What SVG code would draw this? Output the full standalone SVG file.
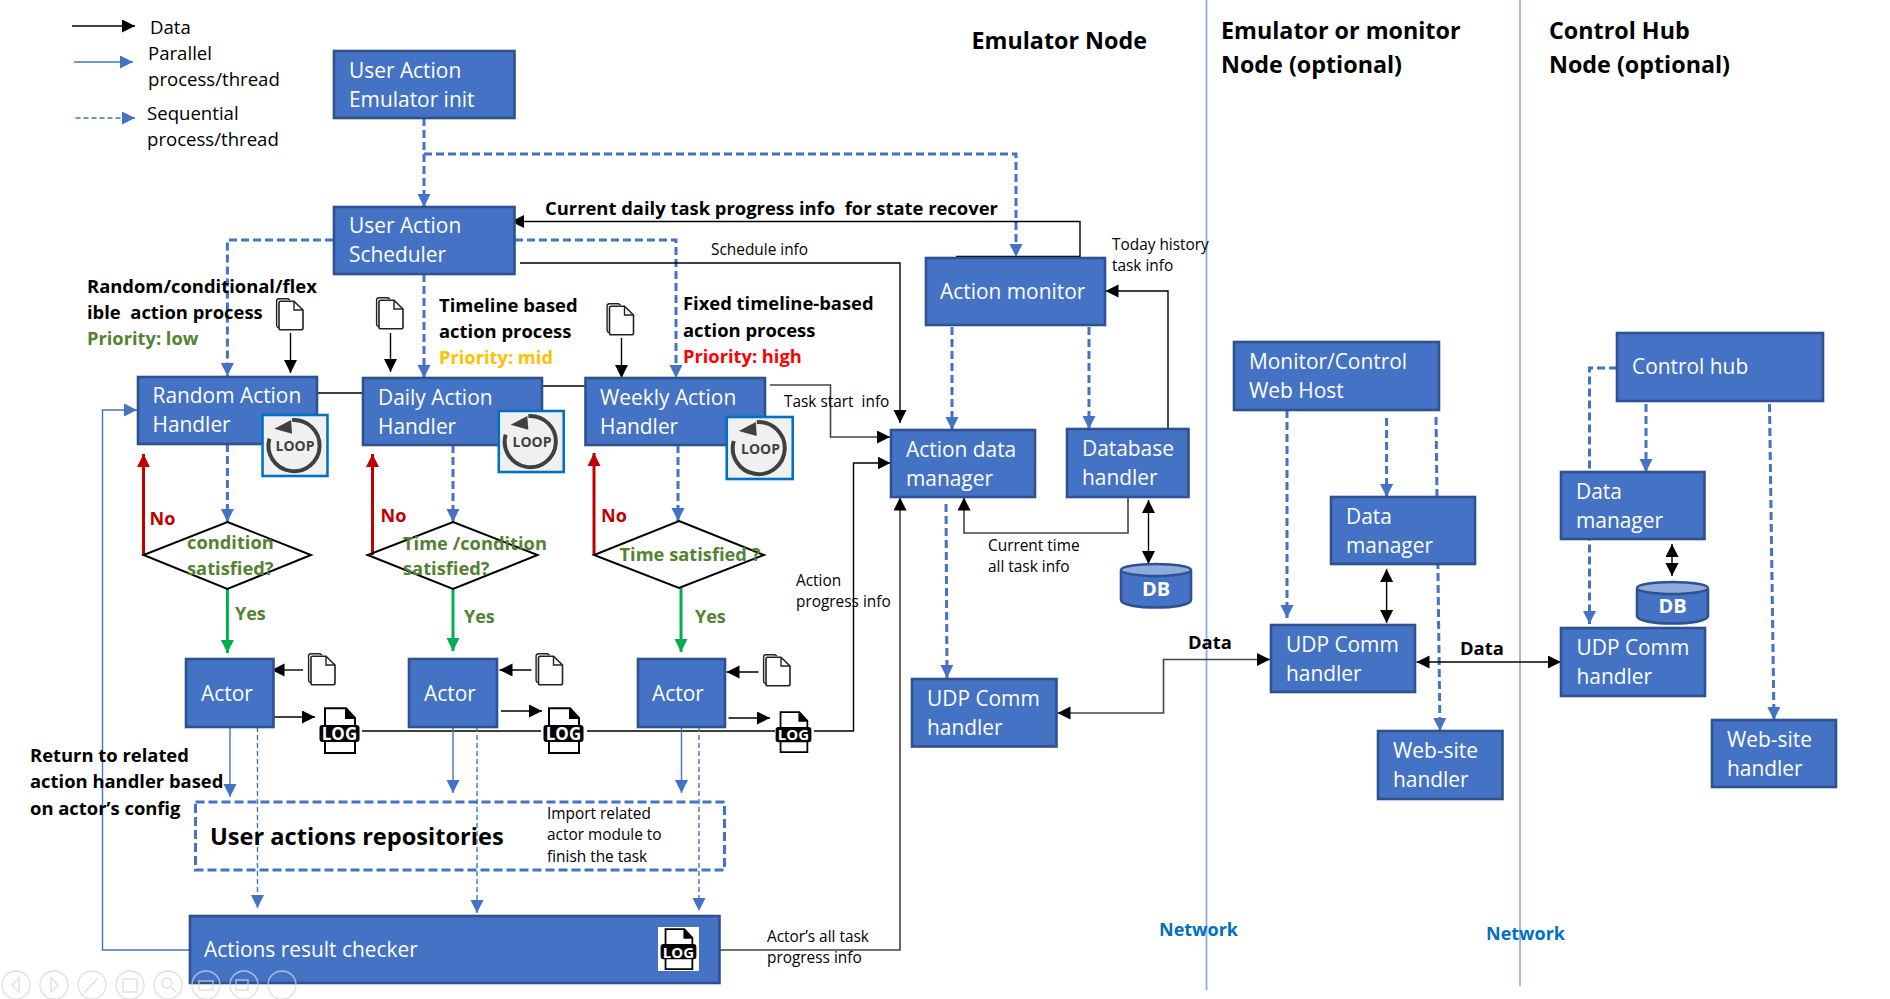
<svg xmlns="http://www.w3.org/2000/svg" width="1890" height="999" viewBox="0 0 1890 999">
<style>
text{font-family:"Open Sans","Noto Sans","Liberation Sans",sans-serif;fill:#000;white-space:pre}
.box{fill:#4472c4;stroke:#2f528f;stroke-width:2.6}
.nt{fill:#fff;font-size:20.9px}
.b{font-weight:700;font-size:18.4px}
.s{font-size:15.4px}
.leg{font-size:18.6px}
.title{font-weight:700;font-size:23.3px}
.grn{fill:#548235;font-weight:700;font-size:18.3px}
.red{fill:#c00000;font-weight:700;font-size:18px}
.yes{fill:#548235;font-weight:700;font-size:18px}
.net{fill:#0070c0;font-weight:700;font-size:18px}
.bl{fill:none;stroke:#000;stroke-width:1.4}
.gr{fill:none;stroke:#444;stroke-width:1.6}
.pa{fill:none;stroke:#4472c4;stroke-width:1.4}
.sq{fill:none;stroke:#4472c4;stroke-width:3;stroke-dasharray:8 4}
.st{fill:none;stroke:#4472c4;stroke-width:1.4;stroke-dasharray:5 3}
.dia{fill:none;stroke:#000;stroke-width:2}
.loopb{fill:#f0f0f0;stroke:#0070c0;stroke-width:2.6}
.lt{font-weight:700;font-size:14px;fill:#404040;text-anchor:middle}
.lg{font-weight:700;font-size:17px;fill:#fff;text-anchor:middle}
.ui{fill:none;stroke:#d8d8d8;stroke-width:1.4}
</style>
<defs>
<marker id="ab" markerUnits="userSpaceOnUse" markerWidth="14" markerHeight="14" refX="13" refY="6.5" orient="auto-start-reverse"><path d="M0 0L13 6.5L0 13Z" fill="#000"/></marker>
<marker id="au" markerUnits="userSpaceOnUse" markerWidth="14" markerHeight="14" refX="13" refY="6.5" orient="auto-start-reverse"><path d="M0 0L13 6.5L0 13Z" fill="#4472c4"/></marker>
<marker id="ag" markerUnits="userSpaceOnUse" markerWidth="14" markerHeight="14" refX="13" refY="6.5" orient="auto"><path d="M0 0L13 6.5L0 13Z" fill="#00b050"/></marker>
<marker id="ar" markerUnits="userSpaceOnUse" markerWidth="14" markerHeight="14" refX="13" refY="6.5" orient="auto"><path d="M0 0L13 6.5L0 13Z" fill="#c00000"/></marker>
<symbol id="doc" viewBox="0 0 28 33" overflow="visible">
<path d="M3 29.5Q0.6 29.5 0.6 27V3Q0.6 0.8 3 0.8H12L14 2" fill="none" stroke="#222" stroke-width="1.4"/>
<path d="M4.5 31.8Q3 31.8 3 30V5Q3 3.2 4.5 3.2H18L27 12V30Q27 31.8 25 31.8Z" fill="#fff" stroke="#222" stroke-width="1.6"/>
<path d="M18 3.2V12H27" fill="none" stroke="#222" stroke-width="1.4"/>
</symbol>
<symbol id="log" viewBox="0 0 41 47" overflow="visible">
<path d="M6 1.2H27L36 11V46H6Z" fill="#fff" stroke="#000" stroke-width="2"/>
<path d="M26 1V12H36Z" fill="#000"/>
<rect x="0.5" y="18" width="40" height="17" rx="3" fill="#000"/>
</symbol>
<symbol id="loop" viewBox="-33 -31 66 62" overflow="visible">
<rect class="loopb" x="-33" y="-31" width="66" height="62"/>
<path d="M-26 -7A26 26 0 1 0 -3 -25.8" fill="none" stroke="#404040" stroke-width="4"/>
<path d="M-21 -17L-4 -26L-3 -12Z" fill="#404040"/>
</symbol>
</defs>

<g id="legend">
<path class="bl" d="M72 26H135" marker-end="url(#ab)"/>
<path class="pa" d="M74 62H133" marker-end="url(#au)"/>
<path class="st" d="M75.5 118H135" marker-end="url(#au)"/>
<text class="leg" x="150" y="34">Data</text>
<text class="leg" x="148" y="60">Parallel</text>
<text class="leg" x="148" y="86">process/thread</text>
<text class="leg" x="147" y="120">Sequential</text>
<text class="leg" x="147" y="146">process/thread</text>
</g>

<g id="network-lines">
<path d="M1206.5 0V990" fill="none" stroke="#8faadc" stroke-width="1.8"/>
<path d="M1520 0V986" fill="none" stroke="#4472c4" stroke-width="1"/>
</g>

<g id="connectors">
<path class="sq" d="M424 118V207" marker-end="url(#au)"/>
<path class="sq" d="M424 154H1016V257" marker-end="url(#au)"/>
<path class="sq" d="M333 240H227.4V376" marker-end="url(#au)"/>
<path class="sq" d="M515 240H676V378" marker-end="url(#au)"/>
<path class="sq" d="M424 274V378" marker-end="url(#au)"/>
<path class="sq" d="M227.4 444V522" marker-end="url(#au)"/>
<path class="sq" d="M453 445V522" marker-end="url(#au)"/>
<path class="sq" d="M678 445V521" marker-end="url(#au)"/>
<path class="bl" d="M956 256.5H1080V221.5H511" marker-end="url(#ab)"/>
<path class="bl" d="M520 263H900V423" marker-end="url(#ab)"/>
<path class="bl" d="M290.5 333V373" marker-end="url(#ab)"/>
<path class="bl" d="M390.5 333V372" marker-end="url(#ab)"/>
<path class="bl" d="M621.5 338V378" marker-end="url(#ab)"/>
<path class="bl" d="M317 393H362"/>
<path class="bl" d="M542 386H585"/>
<path class="gr" d="M770 385H830.5V437H890" marker-end="url(#ab)"/>
<path class="sq" d="M952 327V430" marker-end="url(#au)"/>
<path class="sq" d="M1089 327V429" marker-end="url(#au)"/>
<path class="bl" d="M1168 429V291H1105.5" marker-end="url(#ab)"/>
<path class="gr" d="M1128 497V533H964V497.5" marker-end="url(#ab)"/>
<path class="bl" d="M1148.5 500V564" marker-start="url(#ab)" marker-end="url(#ab)"/>
<path class="bl" d="M362 731H541"/>
<path class="bl" d="M587 731H775"/>
<path class="bl" d="M814 731H853.5V463H890.5" marker-end="url(#ab)"/>
<path class="gr" d="M720 950H900V497.5" marker-end="url(#ab)"/>
<path class="sq" d="M946 504L947 678" marker-end="url(#au)"/>
<path class="gr" d="M1057.5 713H1163.5V659.5H1270" marker-start="url(#ab)" marker-end="url(#ab)"/>
<path class="sq" d="M1287 410V618" marker-end="url(#au)"/>
<path class="sq" d="M1386.6 418V497" marker-end="url(#au)"/>
<path class="sq" d="M1436 417L1440 731" marker-end="url(#au)"/>
<path class="sq" d="M1617 368H1589.5V624" marker-end="url(#au)"/>
<path class="sq" d="M1646 404V472" marker-end="url(#au)"/>
<path class="sq" d="M1769.5 404L1774 720" marker-end="url(#au)"/>
<path class="bl" d="M1672 544V576" marker-start="url(#ab)" marker-end="url(#ab)"/>
<path class="bl" d="M1386.6 569V623" marker-start="url(#ab)" marker-end="url(#ab)"/>
<path class="bl" d="M1416.5 662H1561" marker-start="url(#ab)" marker-end="url(#ab)"/>
<path d="M143.5 555V454" fill="none" stroke="#c00000" stroke-width="3" marker-end="url(#ar)"/>
<path d="M372.5 555V454" fill="none" stroke="#c00000" stroke-width="3" marker-end="url(#ar)"/>
<path d="M594 555V453" fill="none" stroke="#c00000" stroke-width="3" marker-end="url(#ar)"/>
<path d="M227.4 589V653" fill="none" stroke="#00b050" stroke-width="3" marker-end="url(#ag)"/>
<path d="M453 589V651" fill="none" stroke="#00b050" stroke-width="3" marker-end="url(#ag)"/>
<path d="M681 588V652" fill="none" stroke="#00b050" stroke-width="3" marker-end="url(#ag)"/>
<path class="bl" d="M303 670H271.5" marker-end="url(#ab)"/>
<path class="bl" d="M531.5 670H499.5" marker-end="url(#ab)"/>
<path class="bl" d="M758.5 672H726.5" marker-end="url(#ab)"/>
<path class="bl" d="M274 717H315" marker-end="url(#ab)"/>
<path class="bl" d="M501 711H542" marker-end="url(#ab)"/>
<path class="bl" d="M728.5 718H770" marker-end="url(#ab)"/>
<path class="pa" d="M230 727V797" marker-end="url(#au)"/>
<path class="pa" d="M453 727V793" marker-end="url(#au)"/>
<path class="pa" d="M681.5 727V793" marker-end="url(#au)"/>
<path class="st" d="M257.5 727V908" marker-end="url(#au)"/>
<path class="st" d="M477 727V913" marker-end="url(#au)"/>
<path class="st" d="M699 727V911" marker-end="url(#au)"/>
<path class="pa" d="M189 950H102.5V410H137" marker-end="url(#au)"/>
</g>

<g id="node-init"><rect class="box" x="334" y="51" width="180.5" height="67"/><text class="nt" x="349" y="78">User Action</text><text class="nt" x="349" y="107">Emulator init</text></g>
<g id="node-scheduler"><rect class="box" x="334" y="207" width="180.5" height="67"/><text class="nt" x="349" y="233">User Action</text><text class="nt" x="349" y="262">Scheduler</text></g>
<g id="node-random"><rect class="box" x="138" y="377" width="179" height="67"/><text class="nt" x="152.5" y="403">Random Action</text><text class="nt" x="152.5" y="432">Handler</text>
<use href="#loop" x="262" y="415" width="66" height="61"/><text class="lt" x="295" y="451">LOOP</text></g>
<g id="node-daily"><rect class="box" x="363" y="378" width="179" height="67"/><text class="nt" x="378" y="405">Daily Action</text><text class="nt" x="378" y="434">Handler</text>
<use href="#loop" x="498.5" y="411" width="65.5" height="61"/><text class="lt" x="532" y="447">LOOP</text></g>
<g id="node-weekly"><rect class="box" x="585.5" y="378" width="179.5" height="67"/><text class="nt" x="600" y="405">Weekly Action</text><text class="nt" x="600" y="434">Handler</text>
<use href="#loop" x="726.5" y="417" width="66.5" height="62"/><text class="lt" x="760.5" y="454">LOOP</text></g>

<g id="cond-1"><path class="dia" d="M227.4 522L311 555L227.4 589L143.5 555Z"/><text class="grn" x="187" y="549">condition</text><text class="grn" x="187" y="575">satisfied?</text></g>
<g id="cond-2"><path class="dia" d="M453 522L537.6 555L453 589L367.6 555Z"/><text class="grn" x="403" y="550">Time /condition</text><text class="grn" x="403" y="575">satisfied?</text></g>
<g id="cond-3"><path class="dia" d="M679 521L764 555L679 588L594 555Z"/><text class="grn" x="619.5" y="561">Time satisfied ?</text></g>

<g id="actor-1"><rect class="box" x="186" y="659" width="87.5" height="68"/><text class="nt" x="201" y="701">Actor</text>
<use href="#doc" x="308" y="653" width="28" height="33"/><use href="#log" x="319" y="707" width="41" height="47"/><text class="lg" x="339.5" y="740">LOG</text></g>
<g id="actor-2"><rect class="box" x="409" y="659" width="88" height="68"/><text class="nt" x="424" y="701">Actor</text>
<use href="#doc" x="535.5" y="653" width="28" height="33"/><use href="#log" x="543" y="707" width="41" height="47"/><text class="lg" x="563.5" y="740">LOG</text></g>
<g id="actor-3"><rect class="box" x="638" y="659" width="87" height="68"/><text class="nt" x="652" y="701">Actor</text>
<use href="#doc" x="763" y="654" width="28" height="33"/><use href="#log" x="775" y="711" width="37" height="42"/><text class="lg" x="793.5" y="740" style="font-size:15px">LOG</text></g>

<g id="docs"><use href="#doc" x="276" y="298" width="28" height="33"/><use href="#doc" x="376" y="297" width="28" height="33"/><use href="#doc" x="606.5" y="303" width="28" height="33"/></g>

<g id="node-repo"><rect x="195.5" y="802" width="529" height="68" fill="none" stroke="#4472c4" stroke-width="3" stroke-dasharray="9 4"/><text x="210" y="845" style="font-weight:700;font-size:23.6px">User actions repositories</text><text class="s" x="547" y="819">Import related</text><text class="s" x="547" y="840">actor module to</text><text class="s" x="547" y="862">finish the task</text></g>
<g id="node-checker"><rect class="box" x="190" y="916" width="529.5" height="67"/><text class="nt" x="204" y="957">Actions result checker</text>
<rect x="658" y="927" width="41" height="44" fill="#fff"/><use href="#log" x="659.5" y="928" width="38" height="42"/><text class="lg" x="678.5" y="958" style="font-size:15px">LOG</text></g>

<g id="node-monitor"><rect class="box" x="926" y="258" width="179" height="67"/><text class="nt" x="940" y="299">Action monitor</text></g>
<g id="node-adm"><rect class="box" x="891" y="430" width="144" height="67"/><text class="nt" x="906" y="457">Action data</text><text class="nt" x="906" y="486">manager</text></g>
<g id="node-dbh"><rect class="box" x="1067" y="429" width="121.5" height="68"/><text class="nt" x="1082" y="456">Database</text><text class="nt" x="1082" y="485">handler</text></g>
<g id="node-db1"><path class="box" d="M1121 571V600C1121 610 1191 610 1191 600V571Z"/><ellipse cx="1156" cy="570" rx="35" ry="6" fill="#8faadc" stroke="#2f528f" stroke-width="2.4"/><text x="1156" y="596" text-anchor="middle" style="fill:#fff;font-weight:700;font-size:20px">DB</text></g>
<g id="node-udp1"><rect class="box" x="912" y="679" width="144.5" height="67.5"/><text class="nt" x="927" y="706">UDP Comm</text><text class="nt" x="927" y="735">handler</text></g>

<g id="node-host"><rect class="box" x="1234" y="342" width="205" height="68"/><text class="nt" x="1249" y="369">Monitor/Control</text><text class="nt" x="1249" y="398">Web Host</text></g>
<g id="node-dm2"><rect class="box" x="1331" y="497" width="144" height="67"/><text class="nt" x="1346" y="524">Data</text><text class="nt" x="1346" y="553">manager</text></g>
<g id="node-udp2"><rect class="box" x="1271" y="625" width="144" height="67"/><text class="nt" x="1286" y="652">UDP Comm</text><text class="nt" x="1286" y="681">handler</text></g>
<g id="node-web2"><rect class="box" x="1378" y="731" width="124.5" height="68"/><text class="nt" x="1393" y="758">Web-site</text><text class="nt" x="1393" y="787">handler</text></g>

<g id="node-hub"><rect class="box" x="1617" y="333" width="206" height="68"/><text class="nt" x="1632" y="374">Control hub</text></g>
<g id="node-dm3"><rect class="box" x="1561" y="472" width="143.5" height="67"/><text class="nt" x="1576" y="499">Data</text><text class="nt" x="1576" y="528">manager</text></g>
<g id="node-db3"><path class="box" d="M1637 590V616C1637 626 1708 626 1708 616V590Z"/><ellipse cx="1672.5" cy="588" rx="35.5" ry="6" fill="#8faadc" stroke="#2f528f" stroke-width="2.4"/><text x="1672.5" y="613" text-anchor="middle" style="fill:#fff;font-weight:700;font-size:20px">DB</text></g>
<g id="node-udp3"><rect class="box" x="1561" y="628" width="144" height="68"/><text class="nt" x="1576.5" y="655">UDP Comm</text><text class="nt" x="1576.5" y="684">handler</text></g>
<g id="node-web3"><rect class="box" x="1712" y="720" width="124" height="67"/><text class="nt" x="1727" y="747">Web-site</text><text class="nt" x="1727" y="776">handler</text></g>

<g id="labels">
<text class="title" x="971.5" y="49">Emulator Node</text>
<text class="title" x="1221" y="39">Emulator or monitor</text>
<text class="title" x="1221" y="73">Node (optional)</text>
<text class="title" x="1549" y="39">Control Hub</text>
<text class="title" x="1549" y="73">Node (optional)</text>
<text class="b" x="545" y="215">Current daily task progress info  for state recover</text>
<text class="s" x="711" y="255">Schedule info</text>
<text class="s" x="1112" y="250">Today history</text>
<text class="s" x="1112" y="271">task info</text>
<text class="s" x="784" y="407">Task start  info</text>
<text class="s" x="988" y="551">Current time</text>
<text class="s" x="988" y="572">all task info</text>
<text class="s" x="796" y="586">Action</text>
<text class="s" x="796" y="607">progress info</text>
<text class="s" x="767" y="942">Actor’s all task</text>
<text class="s" x="767" y="963">progress info</text>
<text class="b" x="87" y="293">Random/conditional/flex</text>
<text class="b" x="87" y="319">ible  action process</text>
<text class="grn" x="87" y="345">Priority: low</text>
<text class="b" x="439" y="312">Timeline based</text>
<text class="b" x="439" y="338">action process</text>
<text x="439" y="364" style="fill:#ffc000;font-weight:700;font-size:18.3px">Priority: mid</text>
<text class="b" x="683" y="310">Fixed timeline-based</text>
<text class="b" x="683" y="337">action process</text>
<text x="683" y="363" style="fill:#ff0000;font-weight:700;font-size:18.3px">Priority: high</text>
<text class="red" x="149.5" y="525">No</text>
<text class="red" x="380.5" y="522">No</text>
<text class="red" x="601" y="522">No</text>
<text class="yes" x="235" y="620">Yes</text>
<text class="yes" x="464" y="623">Yes</text>
<text class="yes" x="695" y="623">Yes</text>
<text class="b" x="30" y="762">Return to related</text>
<text class="b" x="30" y="788">action handler based</text>
<text class="b" x="30" y="815">on actor’s config</text>
<text class="b" x="1188" y="649">Data</text>
<text class="b" x="1460" y="655">Data</text>
<text class="net" x="1159" y="936">Network</text>
<text class="net" x="1486" y="940">Network</text>
</g>

<g id="player-controls" opacity="0.75">
<circle class="ui" cx="16" cy="985" r="14"/><path class="ui" d="M19 978L12 985L19 992Z"/>
<circle class="ui" cx="54" cy="985" r="14"/><path class="ui" d="M51 978L58 985L51 992Z"/>
<circle class="ui" cx="92" cy="985" r="14"/><path class="ui" d="M84 993L98 978"/>
<circle class="ui" cx="130" cy="985" r="14"/><rect class="ui" x="123" y="979" width="14" height="13"/>
<circle class="ui" cx="168" cy="985" r="14"/><circle class="ui" cx="167" cy="983" r="5"/><path class="ui" d="M171 987L176 992"/>
<circle class="ui" cx="206" cy="985" r="14"/><rect class="ui" x="199" y="981" width="14" height="9"/>
<circle class="ui" cx="244" cy="985" r="14"/><rect class="ui" x="236" y="980" width="12" height="10"/>
<circle class="ui" cx="282" cy="985" r="14"/><path class="ui" d="M276 985H288" stroke-dasharray="2 3"/>
</g>
</svg>
